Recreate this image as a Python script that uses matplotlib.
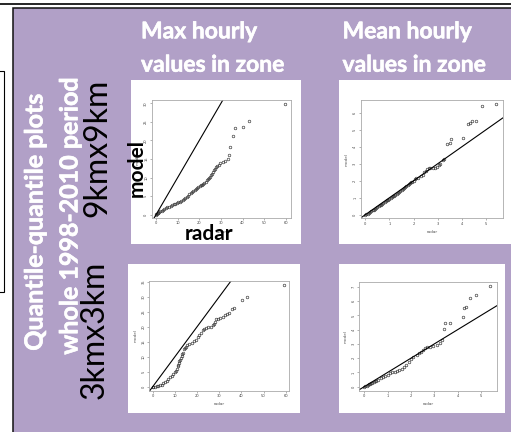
import matplotlib.pyplot as plt
import matplotlib.patheffects as pe
from matplotlib.patches import Rectangle

W, H = 511, 432
PURPLE = "#b1a0c7"

# quantile pairs (radar, model)
max9_radar = [0, 0.2, 0.5, 0.8, 1.1, 1.5, 2.0, 2.6, 3.2, 3.9, 4.6, 5.3, 6.0, 6.7, 7.4, 8.1,
              8.8, 9.5, 10.2, 10.9, 11.6, 12.3, 13.0, 13.6, 14.2, 14.8, 15.4, 16.0, 16.6,
              17.2, 17.8, 18.4, 19.0, 19.6, 20.2, 20.8, 21.4, 21.9, 22.4, 22.9, 23.4, 23.9,
              24.4, 25.0, 25.5, 25.9, 26.3, 26.6, 27.2, 27.8, 28.4, 29.0, 29.6, 30.8, 31.9,
              33.2, 33.6, 34.2, 35.8, 36.7, 40.1, 43.2, 59.7]
max9_model = [0, 0.1, 0.3, 0.45, 0.55, 0.75, 0.95, 1.1, 1.35, 1.55, 1.75, 1.95, 2.15, 2.35,
              2.55, 2.75, 2.95, 3.15, 3.3, 3.45, 3.65, 3.9, 4.2, 4.5, 4.75, 5.1, 5.45, 5.8,
              6.15, 6.4, 6.75, 7.0, 7.25, 7.45, 7.65, 7.9, 8.1, 8.3, 8.55, 8.9, 9.3, 9.6,
              9.9, 10.2, 10.6, 11.0, 11.6, 12.1, 12.4, 12.8, 13.1, 13.5, 13.8, 14.1, 14.4,
              15.0, 16.2, 18.1, 21.2, 23.3, 23.5, 25.3, 29.8]

mean9_radar = [0, 0.05, 0.1, 0.15, 0.2, 0.25, 0.3, 0.35, 0.4, 0.45, 0.5, 0.55, 0.6, 0.65,
               0.7, 0.75, 0.8, 0.85, 0.9, 0.95, 1.0, 1.05, 1.1, 1.15, 1.2, 1.25, 1.3, 1.35,
               1.4, 1.45, 1.5, 1.55, 1.6, 1.65, 1.7, 1.75, 1.8, 1.85, 1.9, 1.95, 2.0, 2.05,
               2.1, 2.2, 2.3, 2.38, 2.45, 2.5, 2.55, 2.62, 2.7, 2.8, 2.9, 2.97, 3.05, 3.1,
               3.2, 3.25, 3.40, 3.51, 3.55, 4.06, 4.24, 4.34, 4.41, 4.59, 4.82, 5.41]
mean9_model = [0, 0.03, 0.07, 0.12, 0.17, 0.21, 0.26, 0.3, 0.35, 0.4, 0.45, 0.5, 0.55, 0.6,
               0.65, 0.7, 0.75, 0.8, 0.85, 0.88, 0.92, 0.97, 1.03, 1.08, 1.12, 1.17, 1.22,
               1.28, 1.35, 1.4, 1.45, 1.5, 1.57, 1.62, 1.67, 1.73, 1.8, 1.88, 1.92, 1.95,
               2.0, 2.1, 2.15, 2.18, 2.25, 2.35, 2.5, 2.6, 2.7, 2.75, 2.76, 2.72, 2.74, 2.78,
               2.9, 3.0, 3.2, 3.3, 4.16, 4.2, 4.43, 4.49, 5.33, 5.41, 5.53, 5.51, 6.39, 6.49]

max3_radar = [0, 0.3, 1.05, 1.8, 2.56, 3.3, 4.06, 4.81, 5.56, 6.32, 7.07, 7.82, 8.57, 9.32,
              10.08, 10.5, 10.83, 11.28, 11.5, 11.73, 12.0, 12.33, 12.7, 13.08, 13.45, 13.83,
              14.29, 14.6, 14.89, 15.64, 16.54, 17.59, 18.65, 19.55, 20.3, 21.05, 21.65,
              22.56, 23.16, 24.06, 25.11, 26.17, 27.07, 27.67, 28.12, 28.57, 29.32, 30.38,
              31.58, 32.63, 33.38, 34.29, 35.64, 36.84, 40.15, 42.71, 59.25]
max3_model = [0, 0, 0, 0.11, 0.22, 0.45, 0.67, 1.11, 1.56, 2.0, 2.56, 3.12, 3.68, 4.24,
              4.9, 5.4, 6.0, 6.9, 7.4, 8.0, 8.5, 9.1, 9.7, 10.3, 10.8, 11.4, 12.5, 13.0,
              13.4, 13.8, 14.3, 14.7, 15.3, 15.6, 16.5, 17.2, 18.1, 19.0, 19.4, 19.6, 19.8,
              20.1, 20.5, 21.0, 21.7, 22.5, 22.7, 23.1, 23.4, 23.9, 24.3, 24.7, 25.9, 26.4,
              28.8, 30.1, 33.8]

mean3_radar = [0, 0.05, 0.1, 0.15, 0.2, 0.25, 0.3, 0.35, 0.4, 0.45, 0.5, 0.6, 0.7, 0.8,
               0.9, 1.0, 1.1, 1.2, 1.3, 1.4, 1.5, 1.6, 1.7, 1.8, 1.9, 2.0, 2.1, 2.24, 2.35,
               2.45, 2.53, 2.6, 2.67, 2.81, 2.96, 3.1, 3.24, 3.33, 3.43, 3.47, 3.69, 4.21,
               4.27, 4.36, 4.54, 4.79, 5.4]
mean3_model = [0, 0.04, 0.08, 0.12, 0.16, 0.2, 0.25, 0.29, 0.33, 0.38, 0.42, 0.5, 0.58,
               0.67, 0.76, 0.85, 0.93, 1.0, 1.05, 1.1, 1.17, 1.25, 1.36, 1.5, 1.7, 1.92,
               2.08, 2.22, 2.35, 2.46, 2.57, 2.68, 2.76, 2.76, 2.85, 2.92, 3.08, 3.27, 4.04,
               4.44, 4.44, 4.86, 5.49, 5.56, 6.24, 6.4, 7.06]

col_titles = [("Max hourly", "values in zone"), ("Mean hourly", "values in zone")]
row_labels = ["9kmx9km", "3kmx3km"]
side_title = ["Quantile-quantile plots", "whole 1998-2010 period"]


def rect(x0, y0, x1, y1):
    return [x0 / W, 1 - y1 / H, (x1 - x0) / W, (y1 - y0) / H]


fig = plt.figure(figsize=(W / 100, H / 100), dpi=100)
bg = fig.add_axes([0, 0, 1, 1])
bg.set_xlim(0, W)
bg.set_ylim(H, 0)
bg.axis("off")

# slide frame
bg.plot([0, W], [3.5, 3.5], color="black", lw=1.2)
bg.add_patch(Rectangle((12.5, 7.5), 520, 440, facecolor=PURPLE, edgecolor="#111", lw=1.1))
bg.add_patch(Rectangle((-20, 70.5), 23.5, 221.5, facecolor="none", edgecolor="black", lw=0.8))

# white boxes holding each plot
for x0, y0, x1, y1 in [(131, 80, 301, 244), (339, 80, 520, 244),
                       (128, 264, 300, 413), (339, 264, 505, 413)]:
    bg.add_patch(Rectangle((x0, y0), x1 - x0, y1 - y0, facecolor="white", edgecolor="none"))

heavy = [pe.withStroke(linewidth=0.4, foreground="white")]
tfont = dict(family="Lato", weight="bold", color="white", path_effects=heavy)
for (l1, l2), x in zip(col_titles, [141, 342.5]):
    bg.text(x, 38.3, l1, va="baseline", ha="left", fontsize=16.5, **tfont)
    bg.text(x, 71.7, l2, va="baseline", ha="left", fontsize=16.5, **tfont)

bg.text(35, 222, side_title[0], rotation=90, ha="center", va="center", fontsize=18, **tfont)
bg.text(70, 216, side_title[1], rotation=90, ha="center", va="center", fontsize=18, **tfont)

rfont = dict(family="Lato", color="black", fontsize=23, rotation=90, ha="center", va="center")
bg.text(97.5, 147.5, row_labels[0], **rfont)
bg.text(95, 329.5, row_labels[1], **rfont)

panels = [
    (max9_radar, max9_model, (151.7, 100, 291, 218), (-2.0, 62.4), (-0.9, 30.9),
     range(0, 61, 10), range(0, 31, 5)),
    (mean9_radar, mean9_model, (360.7, 100, 502.7, 218.3), (-0.19, 5.69), (-0.21, 6.75),
     range(0, 6), range(0, 7)),
    (max3_radar, max3_model, (149.3, 280.7, 289.3, 390.7), (-1.5, 61.6), (-1.3, 35.4),
     range(0, 61, 10), range(0, 36, 5)),
    (mean3_radar, mean3_model, (359.3, 282, 496.7, 390.7), (-0.21, 5.67), (-0.28, 7.34),
     range(0, 6), range(0, 8)),
]

for xs, ys, box, xl, yl, xt, yt in panels:
    ax = fig.add_axes(rect(*box))
    ax.plot(xs, ys, "o", ms=1.9, mfc="none", mec="#333", mew=0.45)
    ax.axline((0, 0), slope=1, color="black", lw=0.8)
    ax.set_xlim(*xl)
    ax.set_ylim(*yl)
    ax.set_xticks(list(xt))
    ax.set_yticks(list(yt))
    ax.tick_params(labelsize=2.6, labelcolor="#444", length=1.5, width=0.4, color="#777", pad=1)
    for lab in ax.get_yticklabels():
        lab.set_rotation(90)
        lab.set_va("center")
    for s in ax.spines.values():
        s.set_color("#aaa")
        s.set_linewidth(0.6)
    ax.set_xlabel("radar", fontsize=3, color="#555", labelpad=3)
    ax.set_ylabel("model", fontsize=3, color="#555", labelpad=3)

# big labels pasted over the first plot
fig.text(137 / W, 1 - 168 / H, "model", family="Lato", weight="bold", fontsize=15,
         rotation=90, ha="center", va="center", zorder=5)
fig.text(209 / W, 1 - 234 / H, "radar", family="Lato", weight="bold", fontsize=15,
         ha="center", va="center", zorder=5)

fig.savefig("out.png", dpi=100)
